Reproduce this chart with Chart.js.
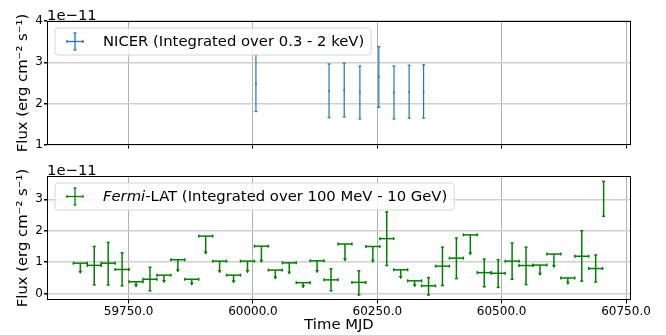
<!DOCTYPE html>
<html>
<head>
<meta charset="utf-8">
<script src="https://cdn.jsdelivr.net/npm/chart.js@4.4.1/dist/chart.umd.min.js"></script>
<style>
    html, body { margin: 0; padding: 0; background: #fff; }
    #wrap { position: relative; width: 666px; height: 335px; }
    canvas { position: absolute; left: 0; }
    #nicerChart { top: 0; }
    #fermiChart { top: 160px; }
</style>
</head>
<body>
<div id="wrap">
    <canvas id="nicerChart" width="666" height="160"></canvas>
    <canvas id="fermiChart" width="666" height="175"></canvas>
</div>
<script>
// flux values are in units of 1e-11 erg cm^-2 s^-1
let xTicks = [59750, 60000, 60250, 60500, 60750];
let nicerTicks = [1, 2, 3, 4];
let fermiTicks = [0, 1, 2, 3];

// NICER, 0.3 - 2 keV
let nicerMjd  = [60006, 60153, 60183.5, 60215, 60253, 60283.5, 60314, 60343];
let nicerFlux = [2.49, 2.31, 2.33, 2.27, 2.65, 2.27, 2.29, 2.29];
let nicerLow  = [1.81, 1.66, 1.68, 1.63, 1.91, 1.63, 1.65, 1.65];
let nicerHigh = [3.18, 2.96, 2.98, 2.91, 3.38, 2.91, 2.93, 2.94];

// Fermi-LAT, 100 MeV - 10 GeV, 28 day bins (last one partial)
let fermiMjd = [59653, 59681, 59709, 59737, 59765, 59793, 59821, 59849, 59877, 59905,
                59933, 59961, 59989, 60017, 60045, 60073, 60101, 60129, 60157, 60185,
                60213, 60241, 60269, 60297, 60325, 60353, 60381, 60409, 60437, 60465,
                60493, 60521, 60549, 60577, 60605, 60633, 60661, 60689, 60705];
let fermiHalfBin = [14, 14, 14, 14, 14, 14, 14, 14, 14, 14,
                    14, 14, 14, 14, 14, 14, 14, 14, 14, 14,
                    14, 14, 14, 14, 14, 14, 14, 14, 14, 14,
                    14, 14, 14, 14, 14, 14, 14, 14, 0];
let fermiFlux = [0.97, 0.90, 0.97, 0.77, 0.38, 0.46, 0.59, 1.08, 0.46, 1.83,
                 1.035, 0.59, 1.035, 1.51, 0.75, 0.98, 0.35, 1.045, 0.44, 1.58,
                 0.36, 1.50, 1.75, 0.76, 0.41, 0.25, 0.875, 1.13, 1.87, 0.67,
                 0.65, 1.035, 0.895, 0.91, 1.26, 0.50, 1.19, 0.80, 3.0];
let fermiLow = [0.65, 0.28, 0.28, 0.25, 0.22, 0.09, 0.36, 0.70, 0.28, 1.26,
                0.67, 0.35, 0.67, 1.00, 0.47, 0.63, 0.19, 0.67, 0.09, 1.05,
                -0.04, 1.00, 0.895, 0.48, 0.22, -0.04, 0.26, 0.48, 1.24, 0.22,
                0.20, 0.46, 0.29, 0.59, 0.83, 0.30, 0.40, 0.37, 2.46];
let fermiHigh = [0.97, 1.50, 1.63, 1.30, 0.38, 0.84, 0.59, 1.08, 0.46, 1.83,
                 1.035, 0.59, 1.035, 1.51, 0.75, 0.98, 0.35, 1.045, 0.79, 1.58,
                 0.73, 1.50, 2.60, 0.76, 0.41, 0.51, 1.48, 1.77, 1.87, 1.10,
                 1.08, 1.61, 1.48, 0.91, 1.26, 0.50, 2.00, 1.23, 3.57];
let fermiUpperLimit = [1, 0, 0, 0, 1, 0, 1, 1, 1, 1,
                       1, 1, 1, 1, 1, 1, 1, 1, 0, 1,
                       0, 1, 0, 1, 1, 0, 0, 0, 1, 0,
                       0, 0, 0, 1, 1, 1, 0, 0, 0];

const FONT = "'DejaVu Sans', sans-serif";
const X_MIN = 59586;
const X_MAX = 60760;
const NICER_BLUE = '#1f77b4';
const FERMI_GREEN = '#008000';

function toPoints(xs, ys) {
    return xs.map((x, i) => ({ x: x, y: ys[i] }));
}

function cap(ctx, x0, y0, x1, y1) {
    ctx.beginPath();
    ctx.moveTo(x0, y0);
    ctx.lineTo(x1, y1);
    ctx.stroke();
}

// draws x/y error bars (and upper-limit arrows) for every dataset carrying an errorBars block
let errorBarPlugin = {
    id: 'errorBars',
    afterDatasetsDraw(chart) {
        let ctx = chart.ctx;
        let xs = chart.scales.x, ys = chart.scales.y;
        let area = chart.chartArea;
        chart.data.datasets.forEach(ds => {
            let eb = ds.errorBars;
            if (!eb) return;
            ctx.save();
            ctx.beginPath();
            ctx.rect(area.left, area.top, area.right - area.left, area.bottom - area.top);
            ctx.clip();
            ctx.strokeStyle = ds.borderColor;
            ctx.fillStyle = ds.borderColor;
            ctx.lineWidth = eb.lineWidth;
            let c = eb.capSize;
            ds.data.forEach((p, i) => {
                let px = xs.getPixelForValue(p.x);
                let py = ys.getPixelForValue(p.y);
                let yHi = ys.getPixelForValue(eb.high[i]);
                let yLo = ys.getPixelForValue(eb.low[i]);
                if (eb.xerr && eb.xerr[i] > 0) {
                    let xl = xs.getPixelForValue(p.x - eb.xerr[i]);
                    let xr = xs.getPixelForValue(p.x + eb.xerr[i]);
                    cap(ctx, xl, py, xr, py);
                    cap(ctx, xl, py - c, xl, py + c);
                    cap(ctx, xr, py - c, xr, py + c);
                }
                cap(ctx, px, yHi, px, yLo);
                if (eb.upperLimit && eb.upperLimit[i]) {
                    ctx.beginPath();
                    ctx.moveTo(px - 2, yLo - 2.5);
                    ctx.lineTo(px + 2, yLo - 2.5);
                    ctx.lineTo(px, yLo + 0.5);
                    ctx.closePath();
                    ctx.fill();
                } else {
                    cap(ctx, px - c, yHi, px + c, yHi);
                    cap(ctx, px - c, yLo, px + c, yLo);
                }
            });
            ctx.restore();
        });
    }
};

function drawLegend(ctx, area, color, parts) {
    let bx = area.left + 8, by = area.top + 7, bh = 27;
    let textX = bx + 48;
    let width = 0;
    parts.forEach(part => {
        ctx.font = (part.italic ? 'italic ' : '') + '14.8px ' + FONT;
        width += ctx.measureText(part.text).width;
    });
    let bw = textX - bx + width + 7;
    let r = 3;
    ctx.save();
    ctx.beginPath();
    ctx.moveTo(bx + r, by);
    ctx.arcTo(bx + bw, by, bx + bw, by + bh, r);
    ctx.arcTo(bx + bw, by + bh, bx, by + bh, r);
    ctx.arcTo(bx, by + bh, bx, by, r);
    ctx.arcTo(bx, by, bx + bw, by, r);
    ctx.closePath();
    ctx.fillStyle = 'rgba(255,255,255,0.8)';
    ctx.fill();
    ctx.strokeStyle = '#d6d6d6';
    ctx.lineWidth = 1;
    ctx.stroke();

    // errorbar handle
    let my = by + bh / 2;
    let mx = bx + 20;
    ctx.strokeStyle = color;
    ctx.lineWidth = 1.3;
    cap(ctx, mx - 8, my, mx + 8, my);
    cap(ctx, mx, my - 8.5, mx, my + 8.5);
    cap(ctx, mx - 1.5, my - 8.5, mx + 1.5, my - 8.5);
    cap(ctx, mx - 1.5, my + 8.5, mx + 1.5, my + 8.5);
    cap(ctx, mx - 8, my - 1.5, mx - 8, my + 1.5);
    cap(ctx, mx + 8, my - 1.5, mx + 8, my + 1.5);

    ctx.fillStyle = '#000';
    ctx.textBaseline = 'middle';
    let x = textX;
    parts.forEach(part => {
        ctx.font = (part.italic ? 'italic ' : '') + '14.8px ' + FONT;
        ctx.fillText(part.text, x, my + 0.5);
        x += ctx.measureText(part.text).width;
    });
    ctx.restore();
}

// axes frame, offset label and legend
let framePlugin = {
    id: 'frame',
    afterDraw(chart, args, opts) {
        let ctx = chart.ctx;
        let a = chart.chartArea;
        ctx.save();
        ctx.strokeStyle = '#000';
        ctx.lineWidth = 1;
        ctx.strokeRect(Math.round(a.left) + 0.5, Math.round(a.top) + 0.5,
            Math.round(a.right - a.left) - 1, Math.round(a.bottom - a.top) - 1);
        ctx.fillStyle = '#000';
        ctx.font = '14.8px ' + FONT;
        ctx.textBaseline = 'alphabetic';
        ctx.fillText('1e\u221211', a.left, a.top - 1);
        ctx.restore();
        drawLegend(ctx, a, opts.color, opts.parts);
    }
};

function makeScales(yMin, yMax, yTicks, bottomAxis) {
    return {
        x: {
            type: 'linear',
            min: X_MIN,
            max: X_MAX,
            bounds: 'data',
            afterBuildTicks: s => { s.ticks = xTicks.map(v => ({ value: v })); },
            afterFit: s => { s.height = bottomAxis ? 35 : 15; },
            ticks: {
                display: bottomAxis,
                autoSkip: false,
                maxRotation: 0,
                padding: 1,
                color: '#000',
                font: { family: FONT, size: 12 },
                callback: v => v.toFixed(1)
            },
            grid: { color: '#b0b0b0', lineWidth: 1, tickLength: 3.5, tickColor: '#000' },
            border: { display: false },
            title: {
                display: bottomAxis,
                text: 'Time MJD',
                color: '#000',
                font: { family: FONT, size: 14.8 },
                padding: { top: 0, bottom: 1 }
            }
        },
        y: {
            type: 'linear',
            min: yMin,
            max: yMax,
            bounds: 'data',
            afterBuildTicks: s => { s.ticks = yTicks.map(v => ({ value: v })); },
            afterFit: s => { s.width = 47; },
            ticks: {
                padding: 1,
                color: '#000',
                font: { family: FONT, size: 12 },
                callback: v => String(v)
            },
            grid: { color: '#cfcfcf', lineWidth: 1.5, tickLength: 3, tickColor: '#000' },
            border: { display: false },
            title: {
                display: true,
                text: 'Flux (erg cm\u207B\u00B2 s\u207B\u00B9)',
                color: '#000',
                font: { family: FONT, size: 14.8 },
                padding: { top: 14.5, bottom: 0 }
            }
        }
    };
}

let nicerChart = new Chart(document.getElementById('nicerChart'), {
    type: 'scatter',
    data: {
        datasets: [{
            data: toPoints(nicerMjd, nicerFlux),
            borderColor: NICER_BLUE,
            backgroundColor: NICER_BLUE,
            pointRadius: 1,
            pointBorderWidth: 0,
            errorBars: { low: nicerLow, high: nicerHigh, lineWidth: 1.2, capSize: 1.5 }
        }]
    },
    options: {
        responsive: false,
        animation: false,
        devicePixelRatio: 1,
        layout: { padding: { left: 0, right: 35, top: 21, bottom: 0 } },
        scales: makeScales(1, 4, nicerTicks, false),
        plugins: {
            legend: { display: false },
            tooltip: { enabled: false },
            frame: { color: NICER_BLUE, parts: [{ text: 'NICER (Integrated over 0.3 - 2 keV)' }] }
        }
    },
    plugins: [errorBarPlugin, framePlugin]
});

let fermiChart = new Chart(document.getElementById('fermiChart'), {
    type: 'scatter',
    data: {
        datasets: [{
            data: toPoints(fermiMjd, fermiFlux),
            borderColor: FERMI_GREEN,
            backgroundColor: FERMI_GREEN,
            pointRadius: 0,
            errorBars: {
                low: fermiLow, high: fermiHigh, xerr: fermiHalfBin,
                upperLimit: fermiUpperLimit, lineWidth: 1.5, capSize: 1.5
            }
        }]
    },
    options: {
        responsive: false,
        animation: false,
        devicePixelRatio: 1,
        layout: { padding: { left: 0, right: 35, top: 16, bottom: 0 } },
        scales: makeScales(-0.2, 3.74, fermiTicks, true),
        plugins: {
            legend: { display: false },
            tooltip: { enabled: false },
            frame: {
                color: FERMI_GREEN,
                parts: [{ text: 'Fermi', italic: true }, { text: '-LAT (Integrated over 100 MeV - 10 GeV)' }]
            }
        }
    },
    plugins: [errorBarPlugin, framePlugin]
});
</script>
</body>
</html>
